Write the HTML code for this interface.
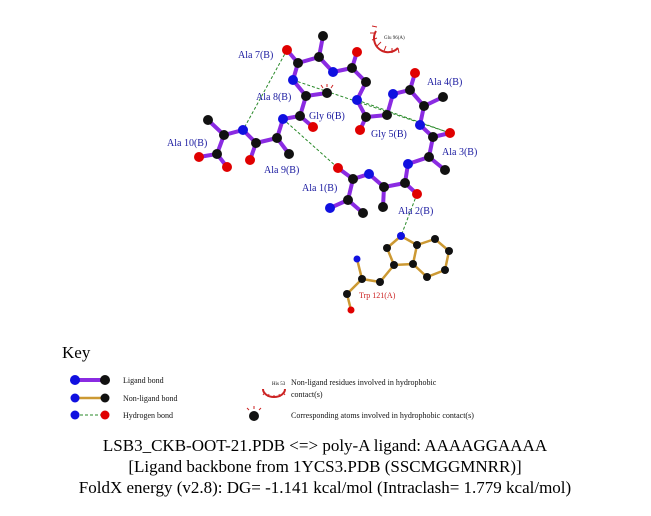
<!DOCTYPE html>
<html><head><style>body{margin:0;background:#fff}</style></head><body>
<svg width="651" height="511" viewBox="0 0 651 511" xmlns="http://www.w3.org/2000/svg" font-family="Liberation Serif, serif">
<g stroke="#8a2be2" stroke-width="4" stroke-linecap="round" fill="none">
<path d="M287,50L298,63L319,57L323,36M319,57L333,72L352,68L357,52M352,68L366,82L357,100L366,117L360,130M366,117L387,115L393,94L410,90L415,73M410,90L424,106L443,97M424,106L420,125L433,137L450,133M433,137L429,157L445,170M429,157L408,164L405,183L417,194M405,183L384,187L383,207M384,187L369,174L353,179L338,168M353,179L348,200L330,208M348,200L363,213"/>
<path d="M298,63L293,80L306,96L327,93M306,96L300,116L313,127M300,116L283,119L277,138L289,154M277,138L256,143L250,160M256,143L243,130L224,135L208,120M224,135L217,154L199,157M217,154L227,167"/>
</g>
<g stroke="#cc9933" stroke-width="2.5" fill="none">
<path d="M401,236L387,248L394,265L413,264L417,245L401,236M417,245L435,239L449,251L445,270L427,277L413,264M394,265L380,282L362,279L357,259M362,279L347,294L351,310"/>
</g>
<g stroke="#2a8a2a" stroke-width="1" stroke-dasharray="3,2" fill="none">
<path d="M287,50L243,130M293,80L450,133M357,100L450,133M283,119L338,168M417,194L401,236"/>
</g>
<g fill="#111">
<circle cx="323" cy="36" r="5"/><circle cx="319" cy="57" r="5"/><circle cx="298" cy="63" r="5"/><circle cx="352" cy="68" r="5"/><circle cx="366" cy="82" r="5"/><circle cx="366" cy="117" r="5"/><circle cx="387" cy="115" r="5"/><circle cx="410" cy="90" r="5"/><circle cx="424" cy="106" r="5"/><circle cx="443" cy="97" r="5"/><circle cx="433" cy="137" r="5"/><circle cx="429" cy="157" r="5"/><circle cx="445" cy="170" r="5"/><circle cx="405" cy="183" r="5"/><circle cx="384" cy="187" r="5"/><circle cx="383" cy="207" r="5"/><circle cx="353" cy="179" r="5"/><circle cx="348" cy="200" r="5"/><circle cx="363" cy="213" r="5"/>
<circle cx="306" cy="96" r="5"/><circle cx="327" cy="93" r="5"/><circle cx="300" cy="116" r="5"/><circle cx="277" cy="138" r="5"/><circle cx="289" cy="154" r="5"/><circle cx="256" cy="143" r="5"/><circle cx="224" cy="135" r="5"/><circle cx="208" cy="120" r="5"/><circle cx="217" cy="154" r="5"/>
<circle cx="387" cy="248" r="4"/><circle cx="417" cy="245" r="4"/><circle cx="435" cy="239" r="4"/><circle cx="449" cy="251" r="4"/><circle cx="445" cy="270" r="4"/><circle cx="427" cy="277" r="4"/><circle cx="413" cy="264" r="4"/><circle cx="394" cy="265" r="4"/><circle cx="380" cy="282" r="4"/><circle cx="362" cy="279" r="4"/><circle cx="347" cy="294" r="4"/>
</g>
<g fill="#e00000"><circle cx="287" cy="50" r="5"/><circle cx="357" cy="52" r="5"/><circle cx="360" cy="130" r="5"/><circle cx="415" cy="73" r="5"/><circle cx="450" cy="133" r="5"/><circle cx="417" cy="194" r="5"/><circle cx="338" cy="168" r="5"/><circle cx="313" cy="127" r="5"/><circle cx="250" cy="160" r="5"/><circle cx="199" cy="157" r="5"/><circle cx="227" cy="167" r="5"/><circle cx="351" cy="310" r="3.5"/></g>
<g fill="#1010e0"><circle cx="333" cy="72" r="5"/><circle cx="357" cy="100" r="5"/><circle cx="393" cy="94" r="5"/><circle cx="420" cy="125" r="5"/><circle cx="408" cy="164" r="5"/><circle cx="369" cy="174" r="5"/><circle cx="330" cy="208" r="5"/><circle cx="293" cy="80" r="5"/><circle cx="283" cy="119" r="5"/><circle cx="243" cy="130" r="5"/><circle cx="401" cy="236" r="4"/><circle cx="357" cy="259" r="3.5"/></g>
<g stroke="#cc2222" stroke-width="1" fill="none">
<path d="M376,31 A14,14 0 0 0 398,48" stroke-width="2"/>
<path d="M377,27l-5,-1M375,33l-5,0M377,38l-5,2M381,42l-4,4M386,46l-2,5M392,48l0,5M398,48l1,5" />
<path d="M323,88l-2,-3M327,87l0,-3M331,88l2,-3"/>
</g>
<text x="384" y="39" font-size="5" fill="#222">Glu 96(A)</text>
<g font-size="10" fill="#1a1aa0">
<text x="238" y="58">Ala 7(B)</text><text x="256" y="100">Ala 8(B)</text><text x="309" y="119">Gly 6(B)</text><text x="371" y="137">Gly 5(B)</text><text x="427" y="85">Ala 4(B)</text><text x="442" y="155">Ala 3(B)</text><text x="167" y="146">Ala 10(B)</text><text x="264" y="173">Ala 9(B)</text><text x="302" y="191">Ala 1(B)</text><text x="398" y="214">Ala 2(B)</text>
</g>
<text x="359" y="298" font-size="8" fill="#cc2222">Trp 121(A)</text>
<text x="62" y="358" font-size="17">Key</text>
<line x1="75" y1="380" x2="105" y2="380" stroke="#8a2be2" stroke-width="4"/><circle cx="75" cy="380" r="5" fill="#1010e0"/><circle cx="105" cy="380" r="5" fill="#111"/>
<line x1="75" y1="398" x2="105" y2="398" stroke="#cc9933" stroke-width="2.5"/><circle cx="75" cy="398" r="4.5" fill="#1010e0"/><circle cx="105" cy="398" r="4.5" fill="#111"/>
<line x1="75" y1="415" x2="105" y2="415" stroke="#2a8a2a" stroke-dasharray="3,2"/><circle cx="75" cy="415" r="4.5" fill="#1010e0"/><circle cx="105" cy="415" r="4.5" fill="#e00000"/>
<g font-size="8" fill="#111">
<text x="123" y="383">Ligand bond</text><text x="123" y="401">Non-ligand bond</text><text x="123" y="418">Hydrogen bond</text>
<text x="291" y="385">Non-ligand residues involved in hydrophobic</text><text x="291" y="397">contact(s)</text>
<text x="291" y="418">Corresponding atoms involved in hydrophobic contact(s)</text>
</g>
<text x="272" y="385" font-size="5">His 53</text>
<path d="M263,389 A11,8 0 0 0 285,389" stroke="#cc2222" stroke-width="2" fill="none"/>
<path d="M265,392l-2,3M269,394l-1,3M274,395l0,3M279,394l1,3M283,392l2,3" stroke="#cc2222"/>
<circle cx="254" cy="416" r="5" fill="#111"/>
<path d="M249,410l-2,-2M254,409l0,-3M259,410l2,-2" stroke="#cc2222"/>
<g font-size="17" fill="#000" text-anchor="middle">
<text x="325" y="451">LSB3_CKB-OOT-21.PDB &lt;=&gt; poly-A ligand: AAAAGGAAAA</text>
<text x="325" y="472">[Ligand backbone from 1YCS3.PDB (SSCMGGMNRR)]</text>
<text x="325" y="493">FoldX energy (v2.8): DG= -1.141 kcal/mol (Intraclash= 1.779 kcal/mol)</text>
</g>
</svg>
</body></html>
